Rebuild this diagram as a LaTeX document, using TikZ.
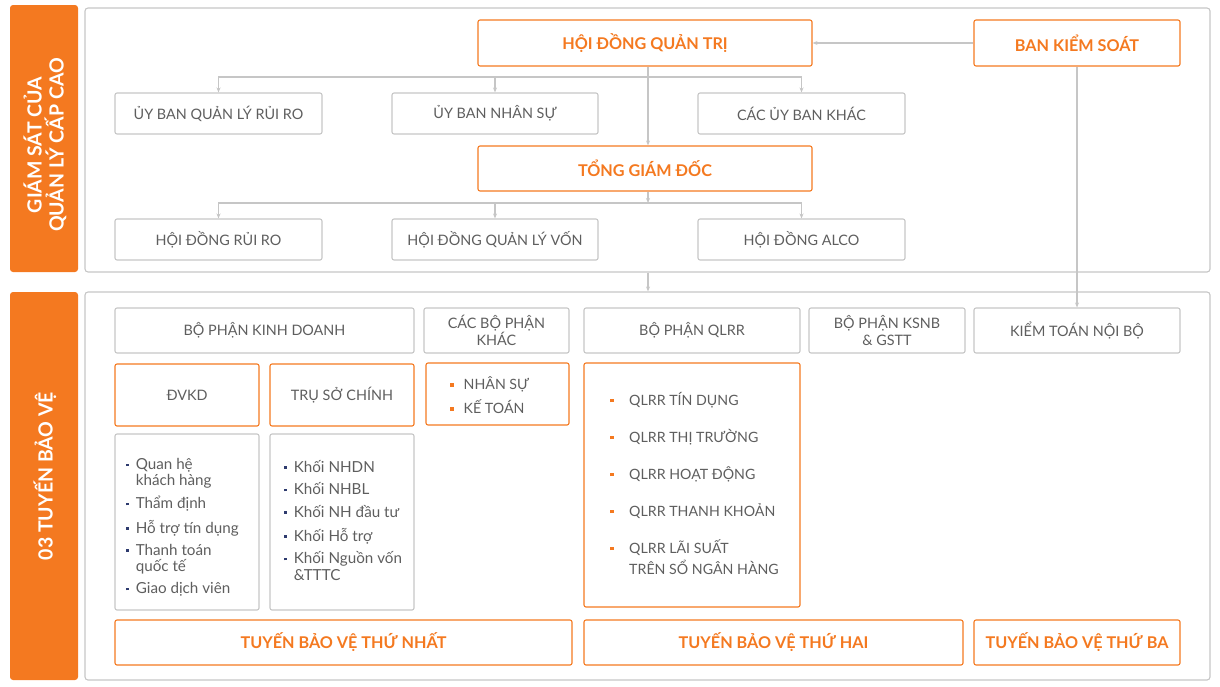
\documentclass[tikz,border=0pt]{standalone}
\usepackage{fontspec}
\setmainfont{Lato}
\usetikzlibrary{arrows.meta}
\definecolor{orng}{HTML}{F47920}
\definecolor{gline}{HTML}{C6C6C6}
\definecolor{gtext}{HTML}{5E5E5E}
\definecolor{navy}{HTML}{2E3B6E}
\newcommand{\obul}{\textcolor{orng}{\rule[3pt]{3.5pt}{3.5pt}}}
\newcommand{\nbul}{\textcolor{navy}{\rule[3.5pt]{2.6pt}{2.6pt}}}
\begin{document}
\begin{tikzpicture}[x=1pt,y=-1pt,
 gbox/.style={draw=gline, line width=1.1pt, rounded corners=2pt, text=gtext, font=\fontsize{14.4}{17}\selectfont, align=center, inner sep=0pt},
 obox/.style={draw=orng, line width=1.1pt, rounded corners=2pt, text=orng, font=\fontsize{16.2}{19}\selectfont\bfseries, align=center, inner sep=0pt},
 olbox/.style={draw=orng, line width=1.1pt, rounded corners=2pt, text=gtext, font=\fontsize{14.4}{17}\selectfont, align=center, inner sep=0pt},
 frame/.style={draw=gline, line width=1.1pt, rounded corners=3pt, inner sep=0pt},
 bar/.style={fill=orng, rounded corners=3pt, inner sep=0pt},
 bartxt/.style={text=white, font=\fontsize{19.5}{22}\selectfont\bfseries, align=center, rotate=90, inner sep=0pt},
 listtxt/.style={anchor=west, inner sep=0pt, text=gtext},
 conn/.style={draw=gline, line width=1.1pt},
 arr/.style={conn, -{Stealth[length=5pt,width=4pt]}},
 ]
\useasboundingbox (0,0) rectangle (1220,686);

% frames and side bars
\node[frame, minimum width=1125pt, minimum height=264pt] (topframe) at (647.5,140) {};
\node[frame, minimum width=1125pt, minimum height=388pt] (botframe) at (647.5,486) {};
\node[bar, minimum width=68pt, minimum height=267pt] (bar1) at (44,138.5) {};
\node[bar, minimum width=68pt, minimum height=388pt] (bar2) at (44,486) {};
\node[bartxt] (bar1txt) at (45,145) {GIÁM SÁT CỦA\\QUẢN LÝ CẤP CAO};
\node[bartxt] (bar2txt) at (45,476) {03 TUYẾN BẢO VỆ};

% top section
\node[obox, minimum width=334pt, minimum height=46pt] (hdqt) at (645,43) {HỘI ĐỒNG QUẢN TRỊ};
\node[obox, minimum width=206pt, minimum height=46pt] (bks) at (1077,43) {BAN KIỂM SOÁT};
\node[gbox, minimum width=207pt, minimum height=41pt] (ub1) at (218.5,113.5) {ỦY BAN QUẢN LÝ RỦI RO};
\node[gbox, minimum width=206pt, minimum height=41pt] (ub2) at (495,113.5) {ỦY BAN NHÂN SỰ};
\node[gbox, minimum width=207pt, minimum height=41pt] (ub3) at (801.5,113.5) {CÁC ỦY BAN KHÁC};
\node[obox, minimum width=334pt, minimum height=45pt] (tgd) at (645,168.5) {TỔNG GIÁM ĐỐC};
\node[gbox, minimum width=207pt, minimum height=41pt] (hd1) at (218.5,239.5) {HỘI ĐỒNG RỦI RO};
\node[gbox, minimum width=206pt, minimum height=41pt] (hd2) at (495,239.5) {HỘI ĐỒNG QUẢN LÝ VỐN};
\node[gbox, minimum width=207pt, minimum height=41pt] (hd3) at (801.5,239.5) {HỘI ĐỒNG ALCO};

\coordinate (b1) at (648,77);
\coordinate (b2) at (648,203);
\draw[arr] (bks.west) -- (hdqt.east);
\draw[arr] (hdqt.south -| b1) -- (tgd.north -| b1);
\draw[arr] (b1) -| (ub1.north);
\draw[arr] (b1) -| (ub2.north);
\draw[arr] (b1) -| (ub3.north);
\draw[arr] (tgd.south -| b2) -- (b2);
\draw[arr] (b2) -| (hd1.north);
\draw[arr] (b2) -| (hd2.north);
\draw[arr] (b2) -| (hd3.north);

% headers of bottom section
\node[gbox, minimum width=299pt, minimum height=45pt] (bpkd) at (264.5,330.5) {BỘ PHẬN KINH DOANH};
\node[gbox, minimum width=145pt, minimum height=45pt] (cbpk) at (496.5,330.5) {CÁC BỘ PHẬN\\KHÁC};
\node[gbox, minimum width=216pt, minimum height=45pt] (bpql) at (692,330.5) {BỘ PHẬN QLRR};
\node[gbox, minimum width=156pt, minimum height=45pt] (ksnb) at (887,330.5) {BỘ PHẬN KSNB\\\& GSTT};
\node[gbox, minimum width=206pt, minimum height=45pt] (ktnb) at (1077,330.5) {KIỂM TOÁN NỘI BỘ};

\draw[arr] (topframe.south -| b1) -- (botframe.north -| b1);
\draw[arr] (bks.south) -- (ktnb.north);

% orange row
\node[olbox, minimum width=144pt, minimum height=62pt] (dvkd) at (187,395) {ĐVKD};
\node[olbox, minimum width=144pt, minimum height=62pt] (tsc) at (342,395) {TRỤ SỞ CHÍNH};
\node[olbox, minimum width=143pt, minimum height=62pt] (nsk) at (497.5,394) {};
\node[olbox, minimum width=216pt, minimum height=244pt] (qlrr) at (692,485) {};

% gray list boxes
\node[gbox, minimum width=144pt, minimum height=176pt] (lb1) at (187,522) {};
\node[gbox, minimum width=144pt, minimum height=176pt] (lb2) at (342,522) {};

% list texts
\node[listtxt, font=\fontsize{14.2}{24}\selectfont] (nsktxt) at (450,397)
 {\begin{tabular}{@{}l@{\hspace{10pt}}l@{}}\obul & NHÂN SỰ\\ \obul & KẾ TOÁN\end{tabular}};
\node[listtxt, font=\fontsize{14.2}{21}\selectfont] (qlrrtxt) at (610,485.5)
 {\begin{tabular}{@{}l@{\hspace{15.5pt}}l@{}}
 \obul & QLRR TÍN DỤNG\\[16pt]
 \obul & QLRR THỊ TRƯỜNG\\[16pt]
 \obul & QLRR HOẠT ĐỘNG\\[16pt]
 \obul & QLRR THANH KHOẢN\\[16pt]
 \obul & QLRR LÃI SUẤT\\
  & TRÊN SỔ NGÂN HÀNG
 \end{tabular}};
\node[listtxt, font=\fontsize{15.2}{15}\selectfont] (l1txt) at (126,528.5)
 {\begin{tabular}{@{}l@{\hspace{7pt}}l@{}}
 \nbul & Quan hệ\\
  & khách hàng\\[6.5pt]
 \nbul & Thẩm định\\[6.5pt]
 \nbul & Hỗ trợ tín dụng\\[6.5pt]
 \nbul & Thanh toán\\
  & quốc tế\\[6.5pt]
 \nbul & Giao dịch viên
 \end{tabular}};
\node[listtxt, font=\fontsize{15.2}{17}\selectfont] (l2txt) at (284,523)
 {\begin{tabular}{@{}l@{\hspace{7pt}}l@{}}
 \nbul & Khối NHDN\\[5.5pt]
 \nbul & Khối NHBL\\[5.5pt]
 \nbul & Khối NH đầu tư\\[5.5pt]
 \nbul & Khối Hỗ trợ\\[5.5pt]
 \nbul & Khối Nguồn vốn\\
  & \&TTTC
 \end{tabular}};

% bottom lines of defence
\node[obox, minimum width=457pt, minimum height=45pt] (t1) at (343.5,642.5) {TUYẾN BẢO VỆ THỨ NHẤT};
\node[obox, minimum width=379pt, minimum height=45pt] (t2) at (773.5,642.5) {TUYẾN BẢO VỆ THỨ HAI};
\node[obox, minimum width=206pt, minimum height=45pt] (t3) at (1077,642.5) {TUYẾN BẢO VỆ THỨ BA};
\end{tikzpicture}
\end{document}
